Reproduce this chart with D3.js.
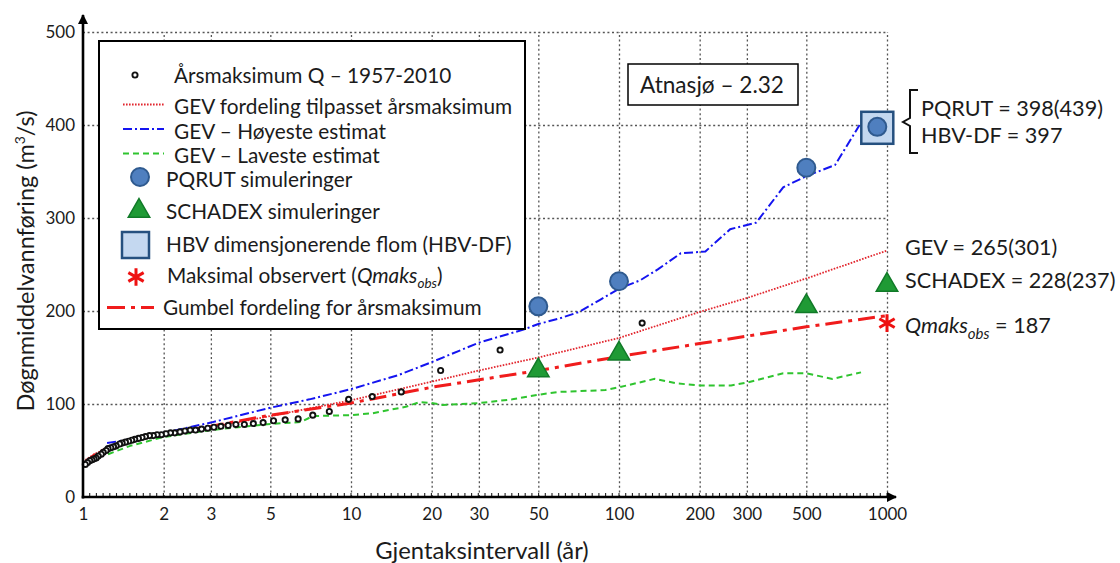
<!DOCTYPE html>
<html>
<head>
<meta charset="utf-8">
<script src="https://cdn.jsdelivr.net/npm/d3@7"></script>
<style>
  body { margin: 0; background: #ffffff; }
  svg { display: block; }
  text { font-family: Lato, "Open Sans", "Noto Sans", sans-serif; fill: #1b1b1b; }
</style>
</head>
<body>
<svg id="chart" width="1120" height="563"></svg>
<script>
// ---- Observed annual maxima (return period in years, flow in m3/s) ----
const obsT = [122, 36, 21.6, 15.4, 12, 9.8, 8.3, 7.2, 6.35, 5.68, 5.14, 4.7, 4.32, 4.0,
  3.72, 3.48, 3.27, 3.08, 2.92, 2.77, 2.63, 2.51, 2.4, 2.3, 2.2, 2.12, 2.04, 1.96, 1.89,
  1.83, 1.77, 1.71, 1.66, 1.61, 1.56, 1.52, 1.48, 1.44, 1.4, 1.37, 1.33, 1.3, 1.27, 1.24,
  1.22, 1.19, 1.17, 1.14, 1.12, 1.1, 1.08, 1.06, 1.04, 1.02];
const obsQ = [187, 158, 136, 113, 108, 105, 92, 88, 84, 83, 82, 80, 79, 78,
  78, 77, 76, 75, 74, 73, 72, 72, 71, 70, 69, 69, 68, 67, 67,
  66, 66, 65, 64, 63, 62, 61, 60, 59, 58, 57, 55, 54, 53, 52,
  50, 48, 46, 44, 42, 41, 40, 39, 37, 35];

// ---- GEV fitted to annual maxima ----
const gevT = [1, 1.1, 1.2, 1.5, 2, 3, 5, 10, 20, 30, 50, 100, 200, 300, 500, 1000];
const gevQ = [38, 46, 51, 59, 67, 75, 87, 104, 124, 136, 150, 171, 199, 214, 235, 265];

// ---- GEV highest estimate ----
const gevHighT = [1.23, 1.5, 2, 3, 5, 7, 10, 15, 20, 30, 44, 50, 60, 71, 85, 100, 120, 140,
  170, 210, 260, 325, 410, 500, 640, 790];
const gevHighQ = [58, 62, 69, 80, 96, 105, 116, 131, 145, 166, 180, 186, 192, 199, 212, 224, 233, 245,
  262, 264, 288, 295, 333, 345, 357, 400];

// ---- GEV lowest estimate ----
const gevLowT = [1.24, 1.5, 2, 3, 5, 6.5, 7.2, 10, 12, 16, 18, 20, 22, 30, 40, 50, 60, 89, 100,
  136, 166, 200, 262, 300, 410, 500, 625, 800];
const gevLowQ = [46, 55, 64.5, 72, 78.5, 80.6, 87, 88, 90, 97, 102, 101, 99, 101, 105, 110, 113, 115, 118,
  127, 122, 120, 120, 123, 133, 133, 127, 134];

// ---- Gumbel distribution for annual maxima ----
const gumbelT = [1.01, 1.05, 1.1, 1.2, 1.5, 2, 3, 5, 10, 20, 50, 100, 200, 500, 1000];
const gumbelQ = [33, 40, 45, 51, 60, 68, 76, 88, 101, 118, 136, 151, 165, 183, 195];

// ---- Simulations and design floods ----
const pqrutT = [50, 100, 500, 920];
const pqrutQ = [205, 232, 354, 398];
const schadexT = [50, 100, 500, 1000];
const schadexQ = [136, 154, 205, 228];
const hbvT = [920];
const hbvQ = [397];
const qmaksT = [1000];
const qmaksQ = [187];

// ---- Axis ticks ----
const xTicks = [1, 2, 3, 5, 10, 20, 30, 50, 100, 200, 300, 500, 1000];
const yTicks = [0, 100, 200, 300, 400, 500];

// ---- Texts ----
const legendLabels = [
  "Årsmaksimum Q – 1957-2010",
  "GEV fordeling tilpasset årsmaksimum",
  "GEV – Høyeste estimat",
  "GEV – Laveste estimat",
  "PQRUT simuleringer",
  "SCHADEX simuleringer",
  "HBV dimensjonerende  flom (HBV-DF)",
  "Maksimal observert (",
  "Gumbel fordeling for årsmaksimum"
];
const stationLabel = "Atnasjø – 2.32";
const xTitle = "Gjentaksintervall (år)";
const yTitle = "Døgnmiddelvannføring (m";

// ---- Styles ----
const C = {
  gev: "#e2262e", high: "#1414f0", low: "#2fc42f", gumbel: "#f01c1c",
  pqrutFill: "#4f7fbf", pqrutStroke: "#2f5a8f",
  schFill: "#1f9a35", schStroke: "#117a28",
  hbvFill: "#c4d8f0", hbvStroke: "#25507f",
  star: "#ee1111", grid: "#555"
};
const lineStyle = {
  gev:    { stroke: C.gev, width: 1.8, dash: "1.6,1.4" },
  high:   { stroke: C.high, width: 2, dash: "9,3,2,3" },
  low:    { stroke: C.low, width: 2, dash: "6,4" },
  gumbel: { stroke: C.gumbel, width: 3, dash: "17,6,4,6" }
};

const svg = d3.select("#chart");
const x = d3.scaleLog().domain([1, 1000]).range([83, 887]);
const y = d3.scaleLinear().domain([0, 500]).range([497, 32]);

// ---- Grid ----
const grid = svg.append("g");
grid.append("g")
  .call(d3.axisLeft(y).tickValues(yTicks.slice(1)).tickSize(-(x(1000) - x(1))).tickFormat(""))
  .attr("transform", `translate(${x(1)},0)`)
  .call(g => g.select(".domain").remove())
  .call(g => g.selectAll("line").attr("stroke", C.grid).attr("stroke-width", 1.3).attr("stroke-dasharray", "2,2.6"));
grid.append("g")
  .call(d3.axisBottom(x).tickValues(xTicks.slice(1)).tickSize(-(y(0) - y(500))).tickFormat(""))
  .attr("transform", `translate(0,${y(0)})`)
  .call(g => g.select(".domain").remove())
  .call(g => g.selectAll("line").attr("stroke", C.grid).attr("stroke-width", 1.3).attr("stroke-dasharray", "2,2.6"));

// ---- Curves ----
const line = d3.line().x(d => x(d[0])).y(d => y(d[1]));
function drawCurve(ts, qs, st) {
  svg.append("path")
    .datum(d3.zip(ts, qs))
    .attr("d", line)
    .attr("fill", "none")
    .attr("stroke", st.stroke)
    .attr("stroke-width", st.width)
    .attr("stroke-dasharray", st.dash);
}
drawCurve(gevLowT, gevLowQ, lineStyle.low);
drawCurve(gevHighT, gevHighQ, lineStyle.high);
drawCurve(gevT, gevQ, lineStyle.gev);
drawCurve(gumbelT, gumbelQ, lineStyle.gumbel);

// ---- Observed annual maxima ----
svg.append("g").selectAll("circle").data(d3.zip(obsT, obsQ)).join("circle")
  .attr("cx", d => x(d[0])).attr("cy", d => y(d[1])).attr("r", 2.6)
  .attr("fill", "#fff").attr("stroke", "#111").attr("stroke-width", 1.9);

// ---- Markers ----
function triangle(size) { return d3.symbol(d3.symbolTriangle, size)(); }
svg.append("g").selectAll("path").data(d3.zip(schadexT, schadexQ)).join("path")
  .attr("d", triangle(200))
  .attr("transform", d => `translate(${x(d[0])},${y(d[1])})`)
  .attr("fill", C.schFill).attr("stroke", C.schStroke).attr("stroke-width", 1.5);
svg.append("g").selectAll("rect").data(d3.zip(hbvT, hbvQ)).join("rect")
  .attr("x", d => x(d[0]) - 16).attr("y", d => y(d[1]) - 16)
  .attr("width", 32).attr("height", 32)
  .attr("fill", C.hbvFill).attr("stroke", C.hbvStroke).attr("stroke-width", 2.5);
svg.append("g").selectAll("circle").data(d3.zip(pqrutT, pqrutQ)).join("circle")
  .attr("cx", d => x(d[0])).attr("cy", d => y(d[1])).attr("r", 9)
  .attr("fill", C.pqrutFill).attr("stroke", C.pqrutStroke).attr("stroke-width", 2);
svg.append("g").selectAll("path").data(d3.zip(qmaksT, qmaksQ)).join("path")
  .attr("d", d3.symbol(d3.symbolAsterisk, 220)())
  .attr("transform", d => `translate(${x(d[0])},${y(d[1])})`)
  .attr("fill", "none").attr("stroke", C.star).attr("stroke-width", 3);

// ---- Axes ----
const defs = svg.append("defs");
defs.append("marker").attr("id", "arrow").attr("viewBox", "0 0 10 10")
  .attr("refX", 9).attr("refY", 5).attr("markerWidth", 4).attr("markerHeight", 4)
  .attr("orient", "auto")
  .append("path").attr("d", "M0,0 L10,5 L0,10 Z").attr("fill", "#000");

const yAxis = svg.append("g").attr("transform", `translate(${x(1)},0)`)
  .call(d3.axisLeft(y).tickValues(yTicks).tickSize(0).tickPadding(8).tickFormat(d3.format("d")));
yAxis.select(".domain").remove();
yAxis.selectAll("text").attr("font-size", 17).attr("font-family", "Lato, sans-serif").attr("fill", "#1b1b1b");

const xAxis = svg.append("g").attr("transform", `translate(0,${y(0)})`)
  .call(d3.axisBottom(x).tickValues(xTicks).tickSize(0).tickPadding(11).tickFormat(d3.format("d")));
xAxis.select(".domain").remove();
xAxis.selectAll("text").attr("font-size", 17).attr("font-family", "Lato, sans-serif").attr("fill", "#1b1b1b");

// small evenly spaced tick marks along the horizontal axis
const minor = d3.scaleLinear().domain([0, 120]).range([x(1), x(1000)]);
svg.append("g").selectAll("line").data(d3.range(1, 121)).join("line")
  .attr("x1", d => minor(d)).attr("x2", d => minor(d))
  .attr("y1", y(0)).attr("y2", y(0) - 4)
  .attr("stroke", "#222").attr("stroke-width", 1.1);

svg.append("line").attr("x1", x(1)).attr("x2", x(1)).attr("y1", y(0) + 1.5).attr("y2", 15)
  .attr("stroke", "#000").attr("stroke-width", 2.6).attr("marker-end", "url(#arrow)");
svg.append("line").attr("x1", x(1) - 1.3).attr("x2", 896).attr("y1", y(0)).attr("y2", y(0))
  .attr("stroke", "#000").attr("stroke-width", 2.6).attr("marker-end", "url(#arrow)");

// ---- Axis titles ----
svg.append("text").attr("x", 482).attr("y", 559).attr("text-anchor", "middle")
  .attr("font-size", 23.8).text(xTitle);
const yt = svg.append("text").attr("transform", "translate(34,261) rotate(-90)")
  .attr("text-anchor", "middle").attr("font-size", 23.5);
yt.append("tspan").text(yTitle);
yt.append("tspan").attr("font-size", 14).attr("dy", -9).text("3");
yt.append("tspan").attr("dy", 9).text("/s)");

// ---- Legend ----
const lg = svg.append("g");
lg.append("rect").attr("x", 99).attr("y", 41).attr("width", 426).attr("height", 288)
  .attr("fill", "#fff").attr("stroke", "#000").attr("stroke-width", 2);
const rowY = [76, 107, 131.5, 156, 180, 212, 244.5, 276, 307.5];
const textX = [174, 174, 174, 174, 166, 166, 166, 167, 163];
lg.selectAll("text.lab").data(legendLabels).join("text")
  .attr("class", "lab")
  .attr("x", (d, i) => textX[i]).attr("y", (d, i) => rowY[i])
  .attr("dy", "0.36em").attr("font-size", 20.8)
  .text(d => d);
// italic part of the observed-maximum entry
const obsLab = lg.selectAll("text.lab").filter((d, i) => i === 7);
obsLab.append("tspan").attr("font-style", "italic").text("Qmaks");
obsLab.append("tspan").attr("font-style", "italic").attr("font-size", 13.5).attr("dy", 5).text("obs");
obsLab.append("tspan").attr("dy", -5).text(")");

lg.append("circle").attr("cx", 135).attr("cy", 75).attr("r", 2.6)
  .attr("fill", "#fff").attr("stroke", "#111").attr("stroke-width", 1.9);
[["gev", 1], ["high", 2], ["low", 3]].forEach(([k, i]) => {
  const st = lineStyle[k];
  lg.append("line").attr("x1", 123).attr("x2", 164).attr("y1", rowY[i] - 2.5).attr("y2", rowY[i] - 2.5)
    .attr("stroke", st.stroke).attr("stroke-width", st.width).attr("stroke-dasharray", st.dash);
});
lg.append("circle").attr("cx", 140).attr("cy", 177).attr("r", 9)
  .attr("fill", C.pqrutFill).attr("stroke", C.pqrutStroke).attr("stroke-width", 2);
lg.append("path").attr("d", triangle(200)).attr("transform", "translate(139,211)")
  .attr("fill", C.schFill).attr("stroke", C.schStroke).attr("stroke-width", 1.5);
lg.append("rect").attr("x", 122).attr("y", 232).attr("width", 27).attr("height", 26)
  .attr("fill", C.hbvFill).attr("stroke", C.hbvStroke).attr("stroke-width", 2.5);
lg.append("path").attr("d", d3.symbol(d3.symbolAsterisk, 220)()).attr("transform", "translate(136,277)")
  .attr("fill", "none").attr("stroke", C.star).attr("stroke-width", 3);
lg.append("line").attr("x1", 107).attr("x2", 154).attr("y1", rowY[8]).attr("y2", rowY[8])
  .attr("stroke", lineStyle.gumbel.stroke).attr("stroke-width", lineStyle.gumbel.width)
  .attr("stroke-dasharray", "18,6,4,6");

// ---- Station box ----
svg.append("rect").attr("x", 628).attr("y", 64).attr("width", 170).attr("height", 41)
  .attr("fill", "#fff").attr("stroke", "#000").attr("stroke-width", 1.5);
svg.append("text").attr("x", 712).attr("y", 93).attr("text-anchor", "middle")
  .attr("font-size", 22.6).text(stationLabel);

// ---- Result annotations ----
const ann = svg.append("g").attr("font-size", 21.6);
ann.append("path").attr("d", "M918,90 L910,90 L910,118 L903,122 L910,126 L910,153 L918,153")
  .attr("fill", "none").attr("stroke", "#111").attr("stroke-width", 2);
ann.append("text").attr("x", 921).attr("y", 115.5).text("PQRUT = 398(439)");
ann.append("text").attr("x", 921).attr("y", 142.5).text("HBV-DF = 397");
ann.append("text").attr("x", 905).attr("y", 255).text("GEV = 265(301)");
ann.append("text").attr("x", 905).attr("y", 288).text("SCHADEX = 228(237)");
const qt = ann.append("text").attr("x", 905).attr("y", 333);
qt.append("tspan").attr("font-style", "italic").text("Qmaks");
qt.append("tspan").attr("font-style", "italic").attr("font-size", 15).attr("dy", 6).text("obs");
qt.append("tspan").attr("dy", -6).text(" = 187");
</script>
</body>
</html>
